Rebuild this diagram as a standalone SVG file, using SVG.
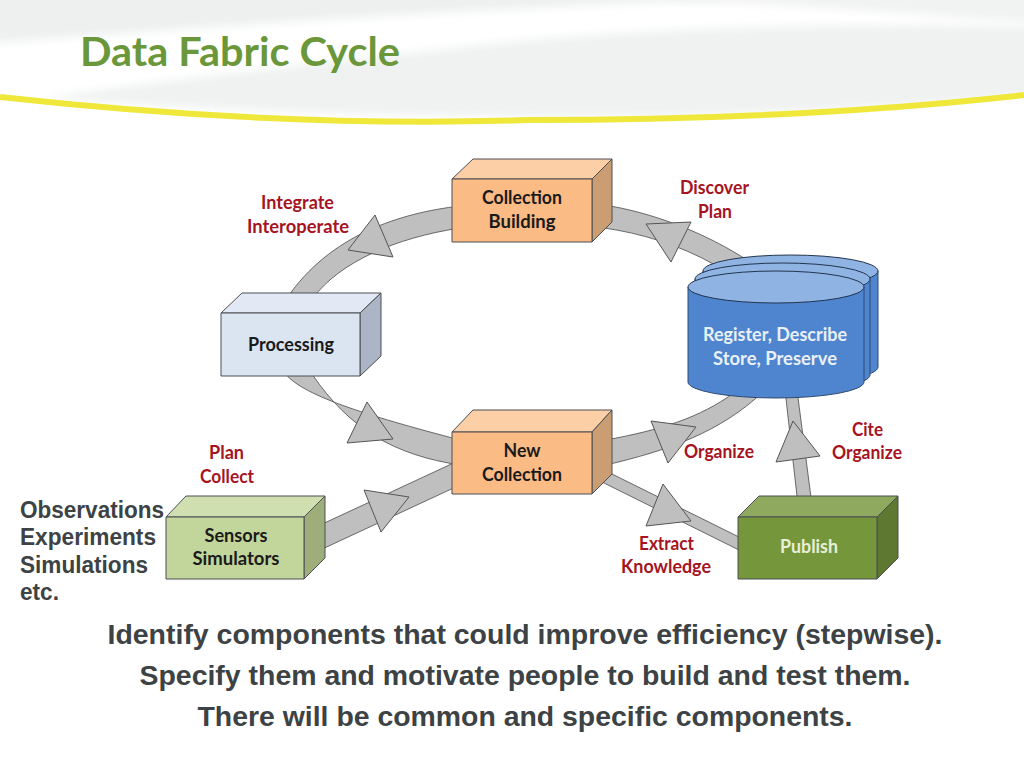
<svg xmlns="http://www.w3.org/2000/svg" width="1024" height="768" viewBox="0 0 1024 768">
<style>
.lb{font-family:"Lato","Open Sans",sans-serif;font-weight:700;font-size:18.500px;text-anchor:middle}
.d{fill:#1a1a1a}.r{fill:#a5141f}.w{fill:#e9f0f8}
.b{font-family:"Liberation Sans",Arial,sans-serif;font-weight:700;fill:#3d4245}
.band{fill:#bfbfbf;stroke:#4a4a4a;stroke-width:.8}
.tri{fill:#bfbfbf;stroke:#555;stroke-width:1}
.e{stroke:#4a4f55;stroke-width:1;stroke-linejoin:round}
.or .f{fill:#fabb85}.or .t{fill:#fccfa6}.or .s{fill:#cb9d72}
.bl .f{fill:#dbe4f1}.bl .t{fill:#e3e9f4}.bl .s{fill:#acb5c6}
.gr .f{fill:#c2d59a}.gr .t{fill:#d0dfb0}.gr .s{fill:#9dae7a}
.pu .f{fill:#76963c}.pu .t{fill:#8fa95e}.pu .s{fill:#5e7731}
.cb{fill:#4f85cf;stroke:#2f4a70;stroke-width:1}.ct{fill:#8fb3e2;stroke:#22344f;stroke-width:1}
</style>
<defs>
<filter id="bl" x="-10%" y="-50%" width="120%" height="200%"><feGaussianBlur stdDeviation="4"/></filter>
<filter id="bs" x="-5%" y="-100%" width="110%" height="300%"><feGaussianBlur stdDeviation=".7"/></filter>
</defs>
<rect width="1024" height="768" fill="#fff"/>
<g id="header">
<path d="M-20 -10H720V0Q400 12 -20 44Z" fill="#eef0f0" filter="url(#bl)"/>
<path d="M680 -10H1044V24Q850 8 680 0Z" fill="#f1f2f2" filter="url(#bl)"/>
<path d="M40 98Q200 75 480 45Q700 20 1044 26V94Q800 118 530 116Q280 116 40 98Z" fill="#f0f2f2" filter="url(#bl)"/>
<path d="M0 97Q280 128 530 120Q800 120 1024 95" fill="none" stroke="#efe83a" stroke-width="6"/>
<text x="80" y="66" font-family="Lato,'Open Sans',sans-serif" font-weight="700" font-size="41" fill="#6b973b" textLength="320" lengthAdjust="spacingAndGlyphs">Data Fabric Cycle</text>
</g>
<g id="connectors">
<path class="band" d="M460 206C400 213 330 235 287 298L313 298C340 262 395 238 460 228Z"/>
<path class="tri" d="M375 215L348 250L393 257Z"/>
<path class="band" d="M604 205C650 212 705 232 750 262L715 265C680 245 640 233 604 228Z"/>
<path class="tri" d="M646 224L691 222L671 262Z"/>
<path class="band" d="M284 372C300 395 365 415 460 440L460 465C395 455 350 430 312 374Z"/>
<path class="tri" d="M367 402L347 443L393 439Z"/>
<path class="band" d="M318 526L460 460L460 485L318 551Z"/>
<path class="tri" d="M364 490L409 497L381 532Z"/>
<path class="band" d="M606 440C660 430 700 418 735 392L763 392C720 432 670 450 606 465Z"/>
<path class="tri" d="M651 421L696 427L668 463Z"/>
<path class="band" d="M610 473L745 540L745 553L600 481Z"/>
<path class="tri" d="M663 484L691 521L646 526Z"/>
<path class="band" d="M785 390L797 390L812 505L798 505Z"/>
<path class="tri" d="M793 421L820 456L776 462Z"/>
</g>
<g id="collection-building" class="or">
<path class="e t" d="M452 179L473 159H612L592 179Z"/><path class="e s" d="M592 179L612 159V222L592 242Z"/><rect class="e f" x="452" y="179" width="140" height="63"/>
<text class="lb d" x="522" y="204" textLength="80" lengthAdjust="spacingAndGlyphs">Collection</text><text class="lb d" x="522" y="228" textLength="67" lengthAdjust="spacingAndGlyphs">Building</text>
</g>
<g id="processing" class="bl">
<path class="e t" d="M221 313L242 293H381L360 313Z"/><path class="e s" d="M360 313L381 293V356L360 376Z"/><rect class="e f" x="221" y="313" width="139" height="63"/>
<text class="lb d" x="291" y="351" textLength="86" lengthAdjust="spacingAndGlyphs">Processing</text>
</g>
<g id="register">
<path class="cb" d="M703 271V367A87.500 16 0 0 0 878 367V271Z"/><ellipse class="ct" cx="790.500" cy="271" rx="87.500" ry="16"/>
<path class="cb" d="M695 279V375A87.500 16 0 0 0 870 375V279Z"/><ellipse class="ct" cx="782.500" cy="279" rx="87.500" ry="16"/>
<path class="cb" d="M688 287V382A88 16 0 0 0 864 382V287Z"/><ellipse class="ct" cx="776" cy="287" rx="88" ry="16"/>
<text class="lb w" x="775" y="341" textLength="144" lengthAdjust="spacingAndGlyphs">Register, Describe</text><text class="lb w" x="775" y="365" textLength="124" lengthAdjust="spacingAndGlyphs">Store, Preserve</text>
</g>
<g id="new-collection" class="or">
<path class="e t" d="M452 432L473 410H612L592 432Z"/><path class="e s" d="M592 432L612 410V474L592 494Z"/><rect class="e f" x="452" y="432" width="140" height="62"/>
<text class="lb d" x="522" y="457" textLength="37" lengthAdjust="spacingAndGlyphs">New</text><text class="lb d" x="522" y="481" textLength="80" lengthAdjust="spacingAndGlyphs">Collection</text>
</g>
<g id="sensors" class="gr">
<path class="e t" d="M166 517L186 496H325L304 517Z"/><path class="e s" d="M304 517L325 496V558L304 579Z"/><rect class="e f" x="166" y="517" width="138" height="62"/>
<text class="lb d" x="236" y="542" textLength="63" lengthAdjust="spacingAndGlyphs">Sensors</text><text class="lb d" x="236" y="565" textLength="87" lengthAdjust="spacingAndGlyphs">Simulators</text>
</g>
<g id="publish" class="pu">
<path class="e t" d="M738 517L759 496H898L877 517Z"/><path class="e s" d="M877 517L898 496V558L877 579Z"/><rect class="e f" x="738" y="517" width="139" height="62"/>
<text class="lb" fill="#e6efd8" x="809" y="553" textLength="58" lengthAdjust="spacingAndGlyphs">Publish</text>
</g>
<g id="labels">
<text class="lb r" x="297.500" y="209" textLength="73" lengthAdjust="spacingAndGlyphs">Integrate</text><text class="lb r" x="298" y="233" textLength="102" lengthAdjust="spacingAndGlyphs">Interoperate</text>
<text class="lb r" x="714.500" y="194" textLength="69" lengthAdjust="spacingAndGlyphs">Discover</text><text class="lb r" x="715" y="218" textLength="34" lengthAdjust="spacingAndGlyphs">Plan</text>
<text class="lb r" x="226.500" y="459" textLength="35" lengthAdjust="spacingAndGlyphs">Plan</text><text class="lb r" x="227" y="483" textLength="54" lengthAdjust="spacingAndGlyphs">Collect</text>
<text class="lb r" x="719" y="458" textLength="70" lengthAdjust="spacingAndGlyphs">Organize</text>
<text class="lb r" x="867.500" y="436" textLength="31" lengthAdjust="spacingAndGlyphs">Cite</text><text class="lb r" x="867" y="459" textLength="70" lengthAdjust="spacingAndGlyphs">Organize</text>
<text class="lb r" x="666.500" y="550" textLength="55" lengthAdjust="spacingAndGlyphs">Extract</text><text class="lb r" x="666" y="573" textLength="90" lengthAdjust="spacingAndGlyphs">Knowledge</text>
</g>
<g id="side-text">
<text class="b" x="20" y="518" font-size="23" textLength="144" lengthAdjust="spacingAndGlyphs">Observations</text>
<text class="b" x="20" y="545" font-size="23" textLength="136" lengthAdjust="spacingAndGlyphs">Experiments</text>
<text class="b" x="20" y="573" font-size="23" textLength="128" lengthAdjust="spacingAndGlyphs">Simulations</text>
<text class="b" x="20" y="600" font-size="23" textLength="39" lengthAdjust="spacingAndGlyphs">etc.</text>
</g>
<g id="body-text">
<text class="b" x="525" y="644" font-size="27.500" text-anchor="middle" textLength="835" lengthAdjust="spacingAndGlyphs">Identify components that could improve efficiency (stepwise).</text>
<text class="b" x="525" y="685" font-size="27.500" text-anchor="middle" textLength="771" lengthAdjust="spacingAndGlyphs">Specify them and motivate people to build and test them.</text>
<text class="b" x="525" y="726" font-size="27.500" text-anchor="middle" textLength="655" lengthAdjust="spacingAndGlyphs">There will be common and specific components.</text>
</g>
<g id="footer" filter="url(#bs)">
<path d="M82 747H168" stroke="#9dbb77" stroke-width="2.500" stroke-dasharray="5 2" fill="none"/>
<path d="M840 747H890" stroke="#d5d5d5" stroke-width="2" fill="none"/><path d="M892 747H938" stroke="#8a8a8a" stroke-width="2" fill="none"/>
</g>
</svg>
